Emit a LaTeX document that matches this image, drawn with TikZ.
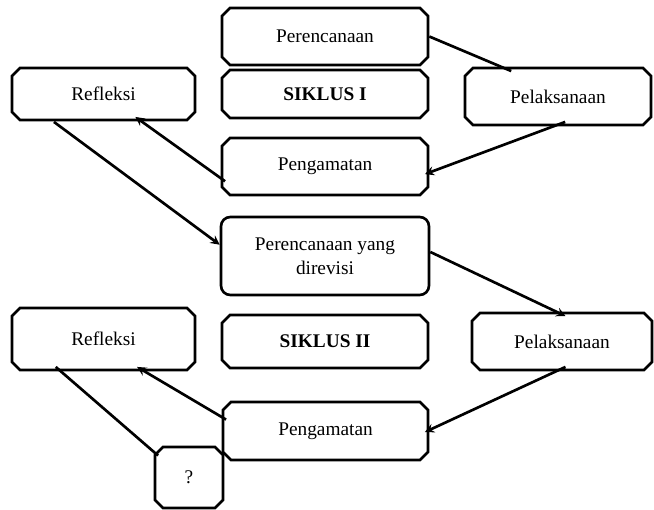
\documentclass[tikz,border=0pt]{standalone}
\usepackage{fontspec}
\setmainfont{Liberation Serif}
\usetikzlibrary{calc,shapes.misc}

\begin{document}
\begin{tikzpicture}[x=0.75pt,y=-0.75pt,
    box/.style={chamfered rectangle,chamfered rectangle xsep=3pt,chamfered rectangle ysep=3pt,draw,line width=2pt,inner sep=0pt,align=center,font=\fontsize{14.5pt}{18pt}\selectfont},
    link/.style={line width=2pt}]
    \useasboundingbox (0, 0) rectangle (654, 510);

    % siklus I
    \node[box,minimum width=154.5pt,minimum height=42.75pt] (per1) at (325, 36.5) {Perencanaan};
    \node[box,minimum width=154.5pt,minimum height=36pt] (sik1) at (325, 94) {\textbf{SIKLUS I}};
    \node[box,minimum width=137.25pt,minimum height=39pt] (ref1) at (103.5, 94) {Refleksi};
    \node[box,minimum width=139.5pt,minimum height=42.75pt] (pel1) at (558, 96.5) {Pelaksanaan};
    \node[box,minimum width=154.5pt,minimum height=42.75pt] (pen1) at (325, 166.5) {Pengamatan};

    \node[rectangle,rounded corners=7pt,draw,line width=2pt,inner sep=0pt,align=center,font=\fontsize{14.5pt}{18pt}\selectfont,minimum width=156pt,minimum height=58.5pt] (rev) at (325, 256) {Perencanaan yang\\direvisi};

    % siklus II
    \node[box,minimum width=137.25pt,minimum height=46.5pt] (ref2) at (103.5, 339) {Refleksi};
    \node[box,minimum width=154.5pt,minimum height=39.75pt] (sik2) at (325, 341.5) {\textbf{SIKLUS II}};
    \node[box,minimum width=135pt,minimum height=42.75pt] (pel2) at (562, 341.5) {Pelaksanaan};
    \node[box,minimum width=153.75pt,minimum height=43.5pt] (pen2) at (325.5, 431) {Pengamatan};
    \node[box,minimum width=51pt,minimum height=45.75pt] (q) at (189, 477.5) {?};

    \draw[link] (per1.east) -- ($(pel1.north west)!.24!(pel1.north east)$);
    \draw[link,-stealth] ($(pel1.south west)!.54!(pel1.south east)$) -- ($(pen1.north east)!.65!(pen1.south east)$);
    \draw[link,-stealth] ($(pen1.north west)!.79!(pen1.south west)$) -- ($(ref1.south west)!.68!(ref1.south east)$);
    \draw[link,-stealth] ($(ref1.south west)!.22!(ref1.south east)$) ++(0, 5) -- ($(rev.north west)!.36!(rev.south west)$);
    \draw[link,-stealth] ($(rev.north east)!.45!(rev.south east)$) -- ($(pel2.north west)!.52!(pel2.north east)$);
    \draw[link,-stealth] ($(pel2.south west)!.52!(pel2.south east)$) -- ($(pen2.north east)!.52!(pen2.south east)$);
    \draw[link,-stealth] ($(pen2.north west)!.28!(pen2.south west)$) -- ($(ref2.south west)!.69!(ref2.south east)$);
    \draw[link] ($(ref2.south west)!.23!(ref2.south east)$) -- ($(q.north west)!.1!(q.south west)$);
\end{tikzpicture}
\end{document}
